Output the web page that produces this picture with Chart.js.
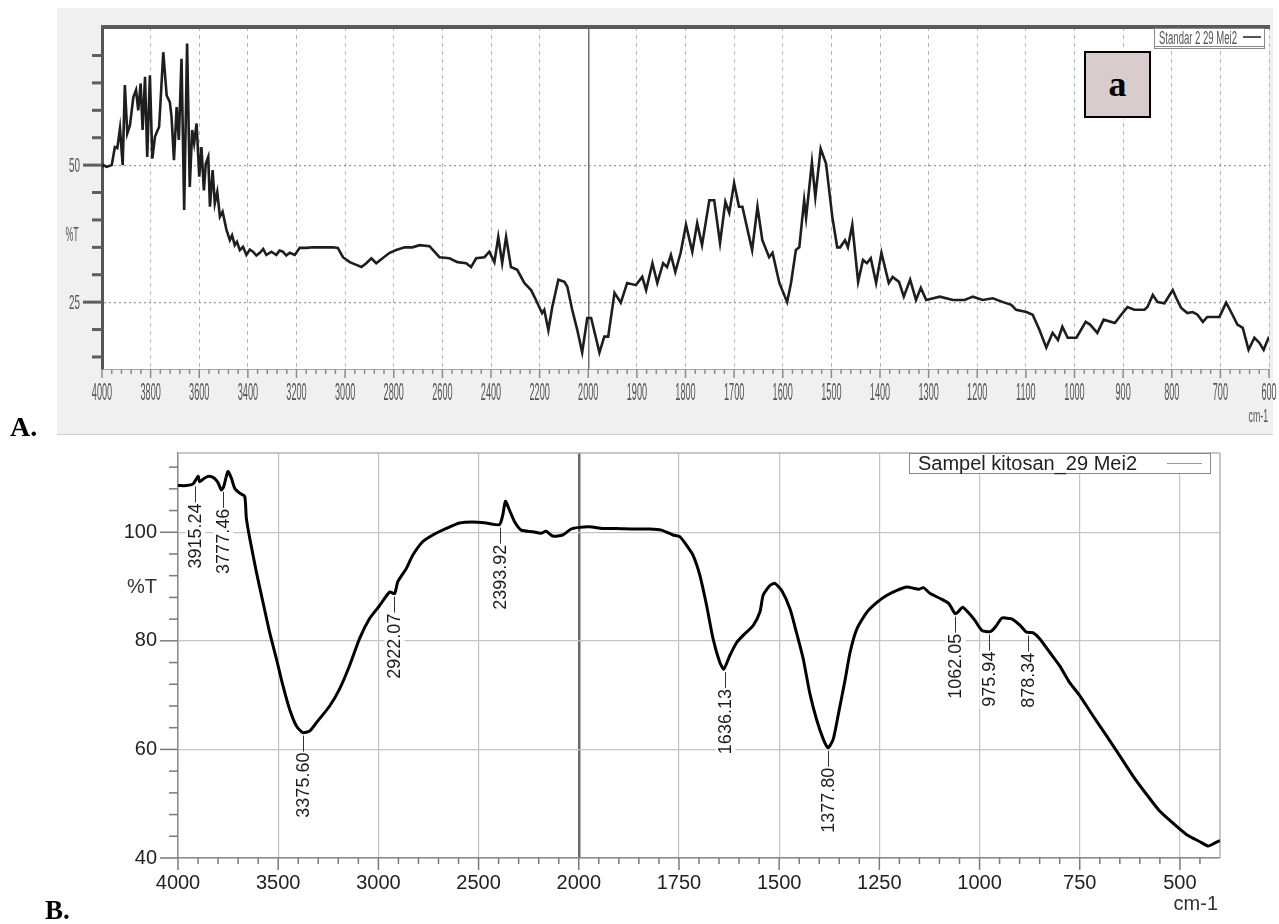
<!DOCTYPE html>
<html>
<head>
<meta charset="utf-8">
<title>FTIR kitosan</title>
<script src="https://cdn.jsdelivr.net/npm/chart.js@4.4.1/dist/chart.umd.min.js"></script>
<style>
  body { margin: 0; width: 1279px; height: 924px; background: #fff; position: relative; overflow: hidden; }
  #frameA { position: absolute; left: 57px; top: 8px; width: 1216px; height: 426px; background: #f0f0f0; border-bottom: 1px solid #cfcfcf; }
  canvas { position: absolute; left: 0; }
  #chartA { top: 0; }
  #chartB { top: 440px; }
  .tag { position: absolute; font-family: 'Liberation Serif', 'DejaVu Serif', serif; font-weight: bold; line-height: 1; color: #000; }
  #tagA { left: 10px; top: 413px; font-size: 28px; }
  #tagB { left: 45px; top: 897px; font-size: 27px; }
  #boxA { position: absolute; left: 1084px; top: 51px; width: 63px; height: 63px; background: #d8cccc; border: 2px solid #000;
          font-family: 'Liberation Serif', 'DejaVu Serif', serif; font-weight: bold; font-size: 36px; text-align: center; line-height: 63px; }
</style>
</head>
<body>
<div id="frameA"></div>
<canvas id="chartA" width="1279" height="440"></canvas>
<div id="boxA">a</div>
<div class="tag" id="tagA">A.</div>
<canvas id="chartB" width="1279" height="484"></canvas>
<div class="tag" id="tagB">B.</div>

<script>
// A: spektrum standar (Standar 2 29 Mei2)
const aWave = [4000, 3995, 3981, 3960, 3947, 3937, 3926, 3915, 3906, 3896, 3885, 3871, 3860, 3851, 3841, 3833, 3823, 3814,
  3803, 3793, 3782, 3765, 3748, 3734, 3721, 3714, 3704, 3693, 3684, 3673, 3662, 3650, 3639, 3629, 3621, 3611, 3600, 3591,
  3581, 3573, 3563, 3556, 3545, 3536, 3526, 3515, 3504, 3488, 3474, 3465, 3454, 3445, 3433, 3420, 3406, 3392, 3379, 3365,
  3351, 3337, 3324, 3303, 3283, 3270, 3256, 3242, 3228, 3207,
  3187, 3159, 3133, 3105, 3077, 3050, 3030, 3009, 2981, 2954, 2933, 2913, 2892, 2872, 2846, 2817, 2790, 2755, 2723, 2694,
  2653, 2612, 2571, 2538, 2502, 2482, 2461, 2427, 2407, 2386, 2370, 2354, 2338, 2318, 2292, 2263, 2235, 2215, 2190, 2181,
  2164, 2148, 2123, 2098, 2086, 2066, 2045, 2025, 2004, 1994, 1977, 1967, 1959, 1946, 1933, 1920, 1902, 1889, 1881, 1868,
  1858, 1846, 1838, 1830, 1821, 1810, 1799, 1786, 1776, 1766, 1751, 1741, 1729, 1718, 1710, 1700, 1690, 1683, 1663, 1652,
  1642, 1628, 1621, 1607, 1591, 1583, 1573, 1566, 1556, 1552, 1540, 1533, 1522, 1511, 1498, 1488, 1482, 1472, 1466, 1457,
  1445, 1435, 1427, 1419, 1408, 1397, 1382, 1374, 1361, 1351, 1338, 1326, 1316, 1305, 1277, 1250, 1226, 1209, 1189, 1168,
  1147, 1130, 1120, 1099, 1086, 1072, 1058, 1045, 1034, 1025, 1014, 996, 977, 968, 953, 940, 917, 904, 891, 877,
  856, 850, 839, 829, 815, 798, 791, 781, 768, 757, 747, 736, 727, 702, 688, 678, 665, 654, 642, 630,
  620, 611, 600];
const aTrans = [49.7, 50.0, 49.7, 50.0, 53.3, 53.1, 56.7, 50.0, 64.6, 55.8, 57.3, 62.4, 63.7, 60.0, 64.9, 56.4, 66.1, 51.5,
  66.4, 51.2, 55.2, 57.0, 70.6, 62.7, 61.5, 58.8, 50.9, 60.6, 54.6, 69.4, 41.8, 72.2, 46.0, 56.4, 54.0, 57.6, 47.9, 53.3,
  45.4, 50.3, 51.5, 42.4, 49.1, 43.0, 45.1, 40.6, 41.5, 38.2, 36.3, 37.2, 35.4, 36.0, 34.5, 35.1, 33.6, 34.6, 34.2, 33.5,
  34.0, 34.7, 33.6, 34.2, 33.6, 34.4, 34.2, 33.5, 34.0, 33.6,
  34.9, 34.9, 35.0, 35.0, 35.0, 35.0, 34.9, 33.2, 32.3, 31.8, 31.4, 32.1, 33.0, 32.1, 33.0, 34.0, 34.5, 35.0, 35.0, 35.4,
  35.2, 33.2, 33.0, 32.3, 32.1, 31.4, 33.0, 33.2, 34.2, 32.3, 36.9, 32.1, 36.9, 31.4, 30.9, 28.5, 27.2, 25.4, 23.0, 23.6,
  19.9, 24.1, 29.1, 28.7, 27.8, 23.6, 19.9, 15.8, 22.1, 22.1, 15.8, 18.7, 18.7, 26.7, 24.9, 28.5, 28.1, 29.6, 27.2, 32.1,
  28.5, 32.1, 31.4, 33.6, 30.5, 34.0, 39.1, 34.2, 39.4, 35.4, 43.6, 43.6, 35.8, 43.3, 41.3, 46.7, 42.4, 42.4, 34.5, 42.4,
  36.3, 33.2, 34.0, 28.5, 25.0, 28.5, 34.5, 35.0, 43.6, 40.4, 50.5, 44.2, 53.0, 50.3, 40.5, 35.0, 35.0, 36.3, 35.0, 39.1,
  28.7, 32.7, 32.1, 33.0, 28.5, 34.0, 28.5, 29.6, 28.7, 26.0, 29.1, 25.4, 27.6, 25.4, 26.0, 25.4, 25.4, 26.0, 25.4, 25.7,
  25.0, 24.5, 23.6, 23.2, 22.7, 19.9, 16.7, 19.4, 18.1, 20.5, 18.5, 18.5, 21.4, 20.9, 19.4, 21.8, 21.2, 22.7, 24.1, 23.6,
  23.6, 24.1, 26.3, 25.0, 24.8, 27.2, 25.8, 24.0, 23.0, 23.2, 22.7, 21.4, 22.3, 22.3, 24.9, 23.2, 20.9, 20.3, 16.3, 18.5,
  17.6, 16.3, 18.7];

// B: spektrum sampel (Sampel kitosan_29 Mei2)
const bWave = [4000, 3958, 3925, 3900, 3892, 3867, 3842, 3817, 3800, 3784, 3772, 3751, 3734, 3717, 3692, 3667, 3659, 3642,
  3609, 3576, 3543, 3509, 3476, 3443, 3409, 3377, 3343, 3310, 3243, 3194, 3144, 3094, 3044, 2994, 2944, 2919, 2903, 2861,
  2828, 2778, 2728, 2661, 2595, 2529, 2462, 2396, 2379, 2366, 2346, 2321, 2287, 2229, 2188, 2163, 2130, 2080, 2038, 1998,
  1973, 1940, 1906, 1865, 1823, 1794, 1765, 1748, 1731, 1715, 1698, 1681, 1665, 1648, 1638, 1623, 1606, 1590, 1565, 1548,
  1540, 1523, 1511, 1494, 1473, 1457, 1440, 1424, 1407, 1390, 1378, 1365, 1353, 1335, 1323, 1306, 1281, 1256, 1231, 1206,
  1181, 1165, 1152, 1140, 1123, 1098, 1077, 1061, 1054, 1042, 1029, 1012, 994, 973, 961, 944, 925, 916, 898, 883,
  867, 850, 825, 800, 775, 750, 717, 683, 650, 617, 583, 550, 517, 483, 450, 429, 412, 400];
const bTrans = [108.6, 108.6, 108.9, 110.3, 109.3, 110.0, 110.3, 109.9, 109.1, 107.8, 108.4, 111.2, 110.0, 108.1, 107.2, 106.6, 102.6, 98.9,
  92.7, 87.1, 81.6, 76.7, 71.7, 67.4, 64.3, 63.1, 63.4, 64.9, 68.0, 71.1, 75.4, 80.4, 84.1, 86.5, 89.0, 88.7, 90.9, 93.3,
  95.8, 98.3, 99.5, 100.7, 101.7, 101.9, 101.7, 101.4, 103.2, 105.7, 104.1, 102.0, 100.4, 100.1, 99.8, 100.2, 99.3, 99.5, 100.6, 100.9,
  101.0, 100.7, 100.7, 100.6, 100.6, 100.4, 99.5, 99.2, 97.6, 95.8, 92.1, 86.5, 80.4, 76.0, 74.8, 77.3, 79.7, 81.0, 82.8, 85.3,
  88.4, 90.2, 90.6, 89.3, 85.9, 81.6, 76.7, 70.5, 65.6, 61.9, 60.3, 61.9, 66.2, 73.0, 77.9, 82.2, 85.3, 87.1, 88.4, 89.3,
  89.9, 89.7, 89.5, 89.8, 88.7, 87.8, 86.9, 85.0, 85.3, 86.2, 85.3, 83.8, 81.9, 81.7, 82.5, 84.2, 84.1, 83.9, 82.8, 81.6,
  81.5, 80.4, 77.9, 75.4, 72.3, 69.9, 66.2, 62.5, 58.8, 55.1, 51.7, 48.6, 46.4, 44.3, 43.0, 42.2, 42.8, 43.2];

// puncak berlabel di B (posisi cm-1 dan %T pada kurva)
const bPeakWave  = [3915.24, 3777.46, 3375.60, 2922.07, 2393.92, 1636.13, 1377.80, 1062.05, 975.94, 878.34];
const bPeakTrans = [109.0, 108.0, 63.1, 88.7, 101.4, 74.8, 60.3, 85.0, 81.7, 81.5];

// label sumbu
const aXTicks = [4000, 3800, 3600, 3400, 3200, 3000, 2800, 2600, 2400, 2200, 2000,
  1900, 1800, 1700, 1600, 1500, 1400, 1300, 1200, 1100, 1000, 900, 800, 700, 600];
const aYTicks = [25, 50];
const aYMinor = [15, 20, 30, 35, 40, 45, 55, 60, 65, 70];
const bXTicks = [4000, 3500, 3000, 2500, 2000, 1750, 1500, 1250, 1000, 750, 500];
const bYTicks = [40, 60, 80, 100];
const bYMinor = [44, 48, 52, 56, 64, 68, 72, 76, 84, 88, 92, 96, 104, 108, 112];

const legendA = 'Standar 2 29 Mei2';
const legendB = 'Sampel kitosan_29 Mei2';

/* global Chart */
Chart.defaults.font.family = "'Liberation Sans', Arial, sans-serif";

// instrumen memakai skala ganda: di bawah 2000 cm-1 sumbu dua kali lebih lebar
function toU(w) { return w >= 2000 ? 4000 - w : 2000 + 2 * (2000 - w); }
function fromU(u) { return u <= 2000 ? 4000 - u : 2000 - (u - 2000) / 2; }

// tiap interval mayor dibagi 5 untuk tick minor
function minorBetween(ticks, extraEnd) {
  const out = [];
  for (let i = 0; i < ticks.length - 1; i++) {
    const u0 = toU(ticks[i]), u1 = toU(ticks[i + 1]);
    for (let k = 1; k < 5; k++) out.push(u0 + (u1 - u0) * k / 5);
  }
  (extraEnd || []).forEach(w => out.push(toU(w)));
  return out;
}

function seg(ctx, x1, y1, x2, y2) {
  ctx.beginPath(); ctx.moveTo(x1, y1); ctx.lineTo(x2, y2); ctx.stroke();
}

// teks sempit seperti font perangkat lunak instrumen
function squeeze(ctx, text, x, y, sx, align) {
  ctx.save();
  ctx.translate(x, y);
  ctx.scale(sx, 1);
  ctx.textAlign = align;
  ctx.fillText(text, 0, 0);
  ctx.restore();
}

// ukuran sumbu dipaksa supaya area plot jatuh tepat di posisi gambar asli
function fixHeight(h) {
  return s => { s.height = h; s.paddingLeft = 0; s.paddingRight = 0; };
}
function fixWidth(w) {
  return s => { s.width = w; s.paddingTop = 0; s.paddingBottom = 0; };
}

const panelAPlugin = {
  id: 'panelA',
  beforeDraw(chart) {
    const { ctx, chartArea: a } = chart;
    ctx.save();
    ctx.fillStyle = '#ffffff';
    ctx.fillRect(a.left, a.top, a.right - a.left, a.bottom - a.top);
    ctx.restore();
  },
  beforeDatasetsDraw(chart) {
    const { ctx, chartArea: a, scales: { x, y } } = chart;
    ctx.save();
    ctx.strokeStyle = '#5e5e5e';
    ctx.lineWidth = 3;
    aYTicks.forEach(v => { const py = y.getPixelForValue(v); seg(ctx, a.left - 19, py, a.left, py); });
    aYMinor.forEach(v => { const py = y.getPixelForValue(v); seg(ctx, a.left - 10, py, a.left, py); });
    ctx.strokeStyle = '#8c8c8c';
    ctx.lineWidth = 1.5;
    aXTicks.forEach(w => { const px = x.getPixelForValue(toU(w)); seg(ctx, px, a.bottom, px, a.bottom + 9); });
    minorBetween(aXTicks).forEach(u => { const px = x.getPixelForValue(u); seg(ctx, px, a.bottom, px, a.bottom + 5); });
    ctx.restore();
  },
  afterDraw(chart) {
    const { ctx, chartArea: a, scales: { x, y } } = chart;
    ctx.save();
    ctx.strokeStyle = '#5a5a5a';
    ctx.lineWidth = 4;
    seg(ctx, a.left - 1, a.top, a.right + 1, a.top);

    ctx.fillStyle = '#555';
    ctx.textBaseline = 'alphabetic';
    ctx.font = "24px 'Liberation Sans', Arial, sans-serif";
    aXTicks.forEach(w => squeeze(ctx, String(w), x.getPixelForValue(toU(w)), 400, 0.38, 'center'));
    ctx.font = "21px 'Liberation Sans', Arial, sans-serif";
    ctx.textBaseline = 'middle';
    aYTicks.forEach(v => squeeze(ctx, String(v), 80, y.getPixelForValue(v) + 1, 0.47, 'right'));
    squeeze(ctx, '%T', 72, 235, 0.42, 'center');
    ctx.textBaseline = 'alphabetic';
    ctx.font = "19px 'Liberation Sans', Arial, sans-serif";
    squeeze(ctx, 'cm-1', 1268, 422, 0.46, 'right');

    // legenda
    ctx.fillStyle = '#ffffff';
    ctx.fillRect(1154.5, 28.5, 110, 20);
    ctx.strokeStyle = '#8a8a8a';
    ctx.lineWidth = 1;
    ctx.strokeRect(1154.5, 28.5, 110, 20);
    seg(ctx, 1155, 46.5, 1264, 46.5);
    ctx.fillStyle = '#555';
    ctx.font = "18px 'Liberation Sans', Arial, sans-serif";
    squeeze(ctx, legendA, 1159, 44, 0.53, 'left');
    ctx.strokeStyle = '#555';
    ctx.lineWidth = 2;
    seg(ctx, 1243, 37, 1261, 37);
    ctx.restore();
  },
};

const panelBPlugin = {
  id: 'panelB',
  beforeDatasetsDraw(chart) {
    const { ctx, chartArea: a, scales: { x, y } } = chart;
    ctx.save();
    ctx.strokeStyle = '#b4b4b4';
    ctx.lineWidth = 1.5;
    seg(ctx, a.left, a.top, a.right, a.top);
    seg(ctx, a.right, a.top, a.right, a.bottom);
    ctx.strokeStyle = '#7a7a7a';
    ctx.lineWidth = 1.5;
    bYTicks.forEach(v => { const py = y.getPixelForValue(v); seg(ctx, a.left - 18, py, a.left, py); });
    bYMinor.forEach(v => { const py = y.getPixelForValue(v); seg(ctx, a.left - 9, py, a.left, py); });
    bXTicks.forEach(w => { const px = x.getPixelForValue(toU(w)); seg(ctx, px, a.bottom, px, a.bottom + 12); });
    minorBetween(bXTicks, [450]).forEach(u => { const px = x.getPixelForValue(u); seg(ctx, px, a.bottom, px, a.bottom + 6); });
    ctx.restore();
  },
  afterDatasetsDraw(chart) {
    const { ctx, scales: { x, y } } = chart;
    ctx.save();
    ctx.font = "18px 'Liberation Sans', Arial, sans-serif";
    bPeakWave.forEach((w, i) => {
      const text = w.toFixed(2);
      const px = Math.round(x.getPixelForValue(toU(w)));
      const py = y.getPixelForValue(bPeakTrans[i]);
      ctx.strokeStyle = '#333';
      ctx.lineWidth = 1;
      seg(ctx, px + 0.5, py + 3, px + 0.5, py + 19);
      ctx.save();
      ctx.translate(px + 0.5, py + 20);
      ctx.rotate(-Math.PI / 2);
      const tw = ctx.measureText(text).width;
      ctx.fillStyle = '#ffffff';
      ctx.fillRect(-tw - 2, -10, tw + 2, 20);
      ctx.fillStyle = '#1c1c1c';
      ctx.textAlign = 'right';
      ctx.textBaseline = 'middle';
      ctx.fillText(text, 0, 1);
      ctx.restore();
    });
    ctx.restore();
  },
  afterDraw(chart) {
    const { ctx } = chart;
    const top = chart.canvas.offsetTop;
    ctx.save();
    ctx.fillStyle = '#ffffff';
    ctx.fillRect(909.5, 453.5 - top, 301, 20);
    ctx.strokeStyle = '#8a8a8a';
    ctx.lineWidth = 1;
    ctx.strokeRect(909.5, 453.5 - top, 301, 20);
    ctx.fillStyle = '#222';
    ctx.font = "20px 'Liberation Sans', Arial, sans-serif";
    ctx.textAlign = 'left';
    ctx.textBaseline = 'alphabetic';
    ctx.fillText(legendB, 918, 470 - top);
    ctx.strokeStyle = '#9a9a9a';
    seg(ctx, 1167, 463.5 - top, 1202, 463.5 - top);

    ctx.fillStyle = '#333';
    ctx.textAlign = 'right';
    ctx.textBaseline = 'middle';
    ctx.fillText('%T', 157, 587 - top);
    ctx.textBaseline = 'alphabetic';
    ctx.fillText('cm-1', 1218, 910 - top);
    ctx.restore();
  },
};

function lineData(waves, trans) {
  return waves.map((w, i) => ({ x: toU(w), y: trans[i] }));
}

new Chart(document.getElementById('chartA'), {
  type: 'line',
  data: {
    datasets: [{
      label: legendA,
      data: lineData(aWave, aTrans),
      borderColor: '#1e1e1e',
      borderWidth: 2.6,
      pointRadius: 0,
      tension: 0,
    }],
  },
  options: {
    responsive: false,
    animation: false,
    devicePixelRatio: 1,
    events: [],
    layout: { padding: { left: 0, right: 10, top: 27, bottom: 0 } },
    plugins: { legend: { display: false }, tooltip: { enabled: false } },
    scales: {
      x: {
        type: 'linear', min: 0, max: toU(600),
        afterFit: fixHeight(71),
        afterBuildTicks: s => { s.ticks = aXTicks.map(w => ({ value: toU(w) })); },
        ticks: { display: false },
        grid: {
          drawTicks: false,
          color: c => (c.tick && c.tick.value === toU(2000)) ? '#707070' : '#b8b8b8',
          lineWidth: c => (c.tick && c.tick.value === toU(2000)) ? 1.5 : 1,
        },
        border: { color: '#a8a8a8', width: 1, dash: c => (c.tick && c.tick.value === toU(2000)) ? [] : [4, 4] },
      },
      y: {
        type: 'linear', min: 12.8, max: 75.2,
        afterFit: fixWidth(102),
        afterBuildTicks: s => { s.ticks = aYTicks.map(v => ({ value: v })); },
        ticks: { display: false },
        grid: { drawTicks: false, color: '#9a9a9a', lineWidth: 1.2 },
        border: { color: '#555', width: 3, dash: [2, 3] },
      },
    },
  },
  plugins: [panelAPlugin],
});

new Chart(document.getElementById('chartB'), {
  type: 'line',
  data: {
    datasets: [{
      label: legendB,
      data: lineData(bWave, bTrans),
      borderColor: '#000000',
      borderWidth: 3,
      pointRadius: 0,
      tension: 0.2,
    }],
  },
  options: {
    responsive: false,
    animation: false,
    devicePixelRatio: 1,
    events: [],
    layout: { padding: { left: 0, right: 59, top: 13, bottom: 0 } },
    plugins: { legend: { display: false }, tooltip: { enabled: false } },
    scales: {
      x: {
        type: 'linear', min: 0, max: toU(400),
        afterFit: fixHeight(66),
        afterBuildTicks: s => { s.ticks = bXTicks.map(w => ({ value: toU(w) })); },
        ticks: { autoSkip: false, maxRotation: 0, minRotation: 0, padding: 13, color: '#222', font: { size: 20 },
                 callback: v => String(fromU(v)) },
        grid: {
          drawTicks: false,
          color: c => (c.tick && c.tick.value === toU(2000)) ? '#6a6a6a' : '#c4c4c4',
          lineWidth: c => (c.tick && c.tick.value === toU(2000)) ? 2.5 : 1.2,
        },
        border: { color: '#8a8a8a', width: 1.5 },
      },
      y: {
        type: 'linear', min: 40, max: 114.6,
        afterFit: fixWidth(178),
        afterBuildTicks: s => { s.ticks = bYTicks.map(v => ({ value: v })); },
        ticks: { padding: 21, color: '#222', font: { size: 20 } },
        grid: { drawTicks: false, color: '#c4c4c4', lineWidth: 1.2 },
        border: { color: '#8a8a8a', width: 1.5 },
      },
    },
  },
  plugins: [panelBPlugin],
});
</script>
</body>
</html>
